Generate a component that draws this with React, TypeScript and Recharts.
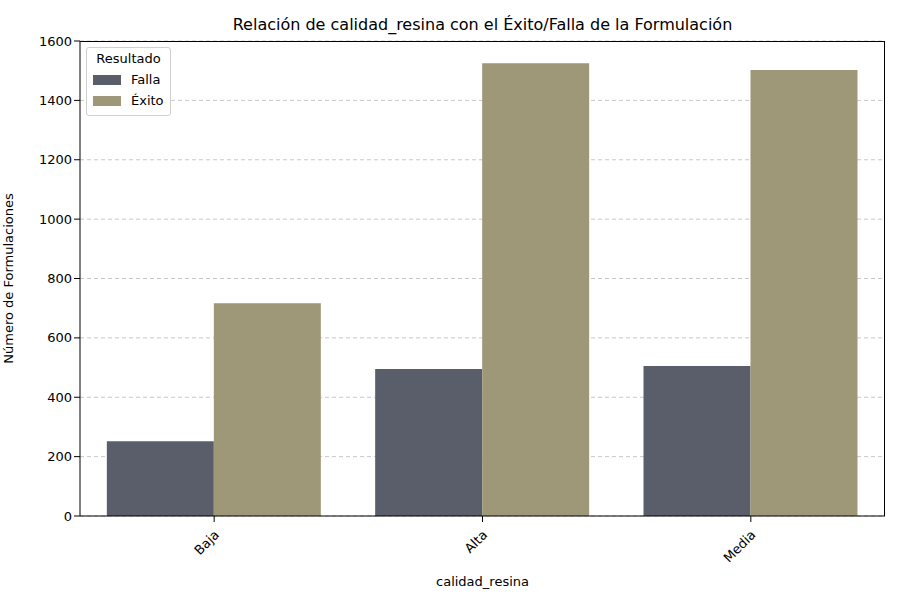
import { BarChart, Bar, XAxis, YAxis, CartesianGrid, Label } from 'recharts'

const categories = ['Baja', 'Alta', 'Media']
const fallaValues = [252, 495, 505]
const exitoValues = [717, 1525, 1502]
const yTicks = [0, 200, 400, 600, 800, 1000, 1200, 1400, 1600]

const FALLA = '#5a5e6b'
const EXITO = '#9e9878'
const font = 'DejaVu Sans, sans-serif'

const data = categories.map((c, i) => ({ name: c, falla: fallaValues[i], exito: exitoValues[i] }))

const RotTick = (props: any) => {
  const { x, y, payload } = props
  return (
    <g transform={`translate(${x},${y + 6})`}>
      <text transform="rotate(-45)" textAnchor="end" dy={8} fontSize={13} fill="#000" fontFamily={font}>
        {payload.value}
      </text>
    </g>
  )
}

export default function App() {
  return (
    <div style={{ position: 'absolute', left: 0, top: 0, width: 900, height: 600, background: '#fff', fontFamily: font }}>
      <div style={{ position: 'absolute', top: 15, left: 80, width: 805, textAlign: 'center', fontSize: 16 }}>
        Relación de calidad_resina con el Éxito/Falla de la Formulación
      </div>
      <BarChart width={900} height={600} data={data} margin={{ top: 41, right: 15, bottom: 0, left: 0 }}
        barCategoryGap="10%" barGap={0}>
        <CartesianGrid vertical={false} strokeDasharray="4 3" stroke="#c8c8c8" />
        <XAxis dataKey="name" tick={<RotTick />} tickLine={{ stroke: '#000' }} axisLine={{ stroke: '#000' }} height={84}>
          <Label value="calidad_resina" position="insideBottom" offset={14} fontSize={13} fill="#000" fontFamily={font} />
        </XAxis>
        <YAxis domain={[0, 1600]} ticks={yTicks} width={80} tick={{ fontSize: 13, fill: '#000', fontFamily: font }}
          tickLine={{ stroke: '#000' }} axisLine={{ stroke: '#000' }}>
          <Label value="Número de Formulaciones" angle={-90} position="insideLeft" offset={8}
            style={{ textAnchor: 'middle' }} fontSize={13} fill="#000" fontFamily={font} />
        </YAxis>
        <Bar dataKey="falla" fill={FALLA} isAnimationActive={false} />
        <Bar dataKey="exito" fill={EXITO} isAnimationActive={false} />
      </BarChart>
      <div style={{ position: 'absolute', left: 80, top: 41, width: 804, height: 474, borderTop: '1px solid #000', borderRight: '1px solid #000', pointerEvents: 'none' }} />
      <div style={{ position: 'absolute', left: 86, top: 47, width: 83, border: '1px solid #d0d0d0', borderRadius: 3, background: '#fff', fontSize: 13, padding: '3px 0 4px 0' }}>
        <div style={{ textAlign: 'center', marginBottom: 3 }}>Resultado</div>
        {[['Falla', FALLA], ['Éxito', EXITO]].map(([n, c]) => (
          <div key={n} style={{ display: 'flex', alignItems: 'center', marginLeft: 6, height: 21 }}>
            <span style={{ width: 28, height: 10, background: c, marginRight: 10 }} />
            {n}
          </div>
        ))}
      </div>
    </div>
  )
}
